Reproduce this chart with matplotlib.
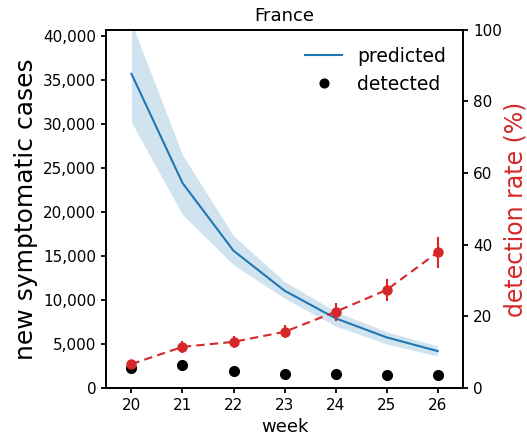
import matplotlib
matplotlib.use("Agg")
import matplotlib.pyplot as plt
from matplotlib.ticker import FuncFormatter
import numpy as np

weeks = [20, 21, 22, 23, 24, 25, 26]
predicted = [35700, 23300, 15600, 11060, 7920, 5760, 4200]
pred_low = [30200, 19700, 14000, 10200, 7050, 5000, 3640]
pred_high = [41500, 26500, 17300, 12100, 8700, 6400, 4770]
detected = [2300, 2600, 1930, 1590, 1590, 1480, 1480]
det_rate = [6.7, 11.5, 12.9, 15.7, 21.3, 27.4, 37.9]
det_rate_err = [1.0, 1.6, 1.7, 1.8, 2.5, 3.0, 4.3]

blue = '#1f77b4'
red = '#d62728'

fig = plt.figure(figsize=(5.27, 4.38), dpi=100)
ax = fig.add_axes([0.201, 0.114, 0.678, 0.818])

ax.fill_between(weeks, pred_low, pred_high, color=blue, alpha=0.2, linewidth=0)
ax.plot(weeks, predicted, color=blue, lw=1.5, label='predicted')
ax.plot(weeks, detected, 'o', color='black', ms=7, label='detected')
ax.set_xlim(19.5, 26.5)
ax.set_ylim(0, 40700)
ax.set_yticks(range(0, 40001, 5000))
ax.yaxis.set_major_formatter(FuncFormatter(lambda v, p: f'{int(v):,}'))
ax.set_xticks(weeks)
ax.tick_params(labelsize=11, width=1.3)
for s in ax.spines.values():
    s.set_linewidth(1.3)
ax.set_xlabel('week', fontsize=13)
ax.set_ylabel('new symptomatic cases', fontsize=18)
ax.set_title('France', fontsize=13)
ax.legend(loc='upper right', frameon=False, fontsize=13.5, markerscale=0.9)

ax2 = ax.twinx()
ax2.errorbar(weeks, det_rate, yerr=det_rate_err, color=red, fmt='o--', ms=6.5,
             lw=1.5, elinewidth=1.5, capsize=0, dashes=(4, 2.5))
ax2.set_ylim(0, 100)
ax2.tick_params(labelsize=11, width=1.3)
for s in ax2.spines.values():
    s.set_linewidth(1.3)
ax2.set_ylabel('detection rate (%)', fontsize=17, color=red, labelpad=1)

fig.savefig('out.png', dpi=100)
